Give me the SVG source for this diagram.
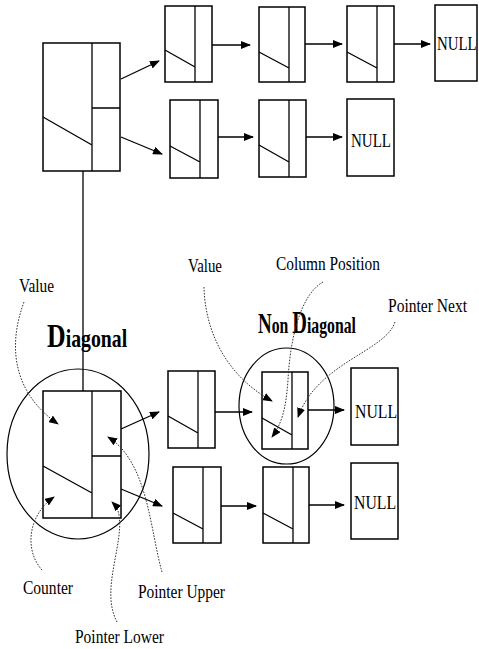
<svg xmlns="http://www.w3.org/2000/svg" width="479" height="649" viewBox="0 0 479 649">
<style>
.n{fill:#fff;stroke:#000;stroke-width:1.5}
.l{stroke:#000;stroke-width:1.3;fill:none}
.e{stroke:#000;stroke-width:1.2;fill:none}
.c{stroke:#000;stroke-width:1.3;fill:none;marker-end:url(#a)}
.d{stroke:#333;stroke-width:1;fill:none;stroke-dasharray:1.6 1.4;marker-end:url(#b)}
.t{font-family:"Liberation Serif","Times New Roman",serif;font-size:18px;fill:#000}
.k{font-family:"Liberation Serif","Times New Roman",serif;font-size:19px;fill:#000}
.h{font-family:"Liberation Serif","Times New Roman",serif;font-weight:bold;fill:#000}
</style>
<defs>
<marker id="a" markerWidth="10" markerHeight="8" refX="9" refY="4" orient="auto" markerUnits="userSpaceOnUse"><path d="M0,0 L10,4 L0,8 Z" fill="#000"/></marker>
<marker id="b" markerWidth="10" markerHeight="8" refX="9" refY="4" orient="auto" markerUnits="userSpaceOnUse"><path d="M0,0 L10,4 L0,8 Z" fill="#000"/></marker>
</defs>
<rect width="479" height="649" fill="#fff"/>

<g id="ellipses">
<ellipse class="e" cx="78" cy="454" rx="71" ry="85"/>
<ellipse class="e" cx="286.5" cy="406" rx="47.5" ry="58"/>
</g>

<g id="connectors">
<path class="l" d="M83,171 L83,391"/>
<path class="c" d="M121,79 L159,61"/>
<path class="c" d="M121,137 L162,154"/>
<path class="c" d="M212,45 L250,45"/>
<path class="c" d="M305,44 L342,44"/>
<path class="c" d="M394,44 L430,44"/>
<path class="c" d="M218,137 L253,137"/>
<path class="c" d="M306,137 L342,137"/>
<path class="c" d="M121,429 L159,412"/>
<path class="c" d="M215,412 L252,412"/>
<path class="c" d="M308,410 L344,410"/>
<path class="c" d="M121,489 L162,506"/>
<path class="c" d="M221,506 L256,506"/>
<path class="c" d="M309,505 L344,505"/>
</g>

<g id="diag-top">
<rect class="n" x="43" y="43" width="77" height="128"/>
<path class="l" d="M92,43 L92,171 M92,108 L120,108 M43,117 L92,145"/>
</g>
<g id="top-1">
<rect class="n" x="165" y="6" width="47" height="76"/>
<path class="l" d="M195,6 L195,82 M165,50 L195,67"/>
</g>
<g id="top-2">
<rect class="n" x="259" y="7" width="46" height="75"/>
<path class="l" d="M289,7 L289,82 M259,52 L289,68"/>
</g>
<g id="top-3">
<rect class="n" x="347" y="6" width="47" height="76"/>
<path class="l" d="M377,6 L377,82 M347,52 L377,68"/>
</g>
<g id="top-null">
<rect class="n" x="435" y="5" width="42" height="76"/>
<text class="k" transform="translate(437,50) scale(0.78,1)" font-size="18">NULL</text>
</g>
<g id="row2-1">
<rect class="n" x="170" y="100" width="48" height="78"/>
<path class="l" d="M200,100 L200,178 M170,146 L200,162"/>
</g>
<g id="row2-2">
<rect class="n" x="259" y="100" width="47" height="77"/>
<path class="l" d="M289,100 L289,177 M259,145 L289,162"/>
</g>
<g id="row2-null">
<rect class="n" x="347" y="99" width="47" height="77"/>
<text class="k" x="351" y="147" textLength="40" lengthAdjust="spacingAndGlyphs">NULL</text>
</g>

<g id="diag-bottom">
<rect class="n" x="43" y="391" width="78" height="127"/>
<path class="l" d="M92,391 L92,518 M92,456 L121,456 M43,466 L92,493"/>
</g>
<g id="bot-a">
<rect class="n" x="168" y="371" width="47" height="77"/>
<path class="l" d="M198,371 L198,448 M168,416 L198,433"/>
</g>
<g id="bot-b">
<rect class="n" x="262" y="372" width="46" height="77"/>
<path class="l" d="M292,372 L292,449 M262,418 L292,435"/>
</g>
<g id="bot-null1">
<rect class="n" x="351" y="368" width="47" height="77"/>
<text class="k" x="355" y="418" textLength="42" lengthAdjust="spacingAndGlyphs">NULL</text>
</g>
<g id="bot-c">
<rect class="n" x="173" y="467" width="48" height="76"/>
<path class="l" d="M203,467 L203,543 M173,513 L203,529"/>
</g>
<g id="bot-d">
<rect class="n" x="263" y="467" width="46" height="76"/>
<path class="l" d="M293,467 L293,543 M263,513 L293,529"/>
</g>
<g id="bot-null2">
<rect class="n" x="351" y="463" width="47" height="76"/>
<text class="k" x="354" y="509" textLength="42" lengthAdjust="spacingAndGlyphs">NULL</text>
</g>

<g id="titles">
<text class="h" transform="translate(47,347) scale(0.76,1)" font-size="26"><tspan font-size="34">D</tspan>iagonal</text>
<text class="h" transform="translate(258,333) scale(0.656,1)" font-size="24"><tspan font-size="29">N</tspan>on <tspan font-size="31">D</tspan>iagonal</text>
</g>

<g id="labels">
<text class="t" x="19" y="292" textLength="35" lengthAdjust="spacingAndGlyphs">Value</text>
<text class="t" x="188" y="272" textLength="34" lengthAdjust="spacingAndGlyphs">Value</text>
<text class="t" x="276" y="270" textLength="104" lengthAdjust="spacingAndGlyphs">Column Position</text>
<text class="t" x="388" y="312" textLength="79" lengthAdjust="spacingAndGlyphs">Pointer Next</text>
<text class="t" x="23" y="594" textLength="50" lengthAdjust="spacingAndGlyphs">Counter</text>
<text class="t" x="138" y="598" textLength="87" lengthAdjust="spacingAndGlyphs">Pointer Upper</text>
<text class="t" x="75" y="643" textLength="89" lengthAdjust="spacingAndGlyphs">Pointer Lower</text>
</g>

<g id="callouts">
<path class="d" d="M24,302 C8,345 12,392 58,424"/>
<path class="d" d="M204,287 C205,330 225,375 272,401"/>
<path class="d" d="M323,282 C300,295 290,340 288,380 C286,410 281,425 272,437"/>
<path class="d" d="M395,322 C385,352 318,362 298,417"/>
<path class="d" d="M42,570 C24,550 28,515 54,497"/>
<path class="d" d="M162,572 C150,530 148,462 108,437"/>
<path class="d" d="M117,622 C100,590 124,545 119,515 C118,509 116,506 112,502"/>
</g>
</svg>
